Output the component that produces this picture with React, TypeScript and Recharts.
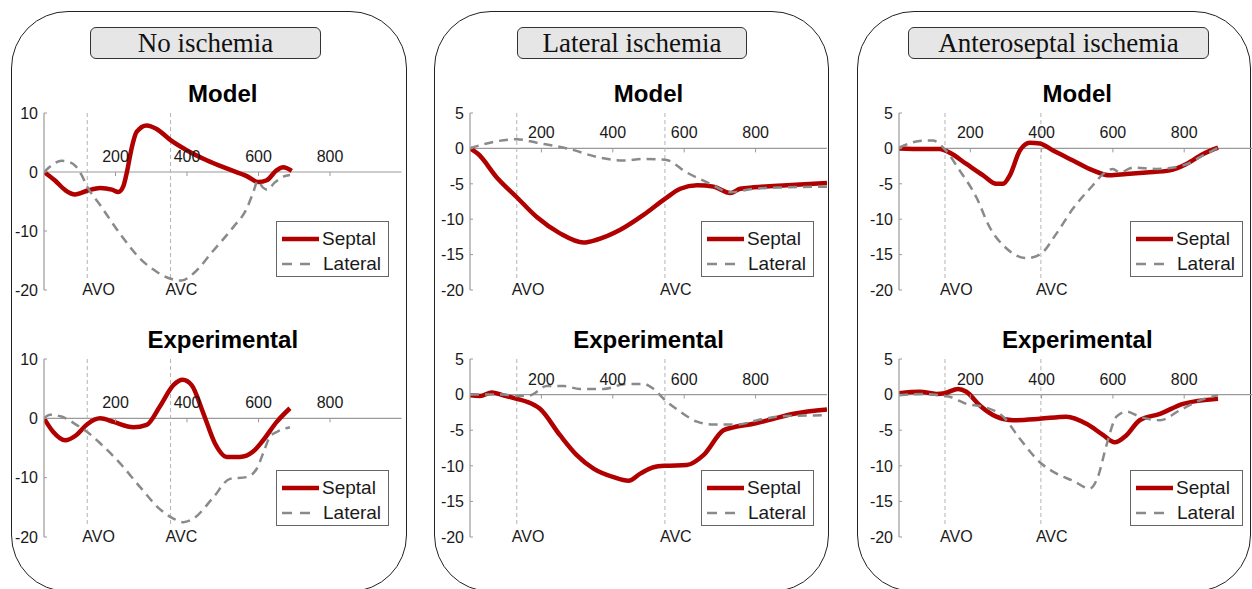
import React from 'react';
import { LineChart, Line, XAxis, YAxis, ReferenceLine, Legend } from 'recharts';

type Pt = [number, number];

// time (ms) / strain-like values
const xTicks = [200, 400, 600, 800];
const yTicksWide = [-20, -10, 0, 10];
const yTicksNarrow = [-20, -15, -10, -5, 0, 5];
const panelTitles = ['No ischemia', 'Lateral ischemia', 'Anteroseptal ischemia'];
const subTitles = ['Model', 'Experimental'];
const seriesNames = ['Septal', 'Lateral'];
const avoTimes = [121, 131, 129];
const avcTimes = [354, 546, 398];

const noIschModelSeptal: Pt[] = [[0, 0], [30, -1.4], [60, -3.1], [87, -3.8], [124, -3.1], [157, -2.7], [190, -3.0], [208, -3.4], [222, -2.4], [232, 0], [245, 4.0], [259, 6.8], [287, 7.9], [315, 7.3], [354, 5.4], [399, 3.7], [455, 2.0], [511, 0.6], [567, -0.7], [600, -1.7], [623, -1.4], [651, 0.3], [669, 0.8], [693, 0.2]];
const noIschModelLateral: Pt[] = [[0, 0], [25, 1.3], [49, 1.9], [70, 1.7], [87, 1.1], [105, -0.5], [121, -2.5], [157, -5.6], [213, -10.5], [269, -14.7], [315, -16.9], [354, -18.1], [385, -18.4], [418, -17.2], [474, -13.3], [530, -9.3], [567, -6.2], [585, -3.5], [598, -1.5], [612, -2.6], [625, -3.0], [645, -1.8], [669, -0.8], [688, -0.5]];
const noIschExpSeptal: Pt[] = [[0, 0], [26, -2.3], [59, -3.7], [91, -2.8], [121, -1.0], [157, 0], [194, -0.6], [250, -1.5], [287, -1.1], [324, 2.0], [362, 5.6], [388, 6.5], [413, 5.6], [446, 0.8], [478, -4.2], [511, -6.5], [548, -6.5], [585, -5.6], [613, -3.7], [651, -0.6], [688, 1.7]];
const noIschExpLateral: Pt[] = [[0, 0], [17, 0.6], [49, 0.3], [91, -1.1], [121, -2.3], [157, -4.2], [213, -7.6], [269, -11.6], [324, -15.3], [362, -16.9], [390, -17.5], [418, -16.9], [474, -13.3], [520, -10.2], [567, -9.9], [595, -8.5], [613, -5.9], [632, -3.1], [651, -2.3], [688, -1.5]];

const latModelSeptal: Pt[] = [[0, 0], [23, -0.8], [75, -4.1], [131, -6.9], [187, -9.7], [252, -12.0], [318, -13.3], [355, -12.9], [421, -11.5], [486, -9.4], [547, -7.1], [589, -5.7], [636, -5.2], [682, -5.4], [729, -6.3], [757, -5.7], [794, -5.5], [888, -5.2], [1000, -4.9]];
const latModelLateral: Pt[] = [[0, 0], [47, 0.7], [131, 1.3], [187, 0.8], [280, -0.1], [355, -1.2], [430, -1.7], [486, -1.5], [547, -1.6], [607, -3.4], [673, -5.0], [729, -6.2], [794, -5.7], [888, -5.5], [1000, -5.4]];
const latExpSeptal: Pt[] = [[0, -0.1], [28, -0.2], [61, 0.3], [93, -0.1], [131, -0.6], [159, -1.0], [196, -2.0], [252, -5.7], [299, -8.5], [346, -10.4], [402, -11.6], [444, -12.1], [477, -11.1], [514, -10.2], [547, -10.0], [607, -9.9], [654, -8.5], [710, -5.0], [738, -4.6], [794, -4.1], [850, -3.4], [907, -2.7], [1000, -2.1]];
const latExpLateral: Pt[] = [[0, 0], [47, 0], [93, 0], [131, -0.2], [168, -0.1], [215, 1.2], [262, 1.2], [308, 0.8], [374, 0.8], [439, 1.5], [486, 1.5], [514, 0.8], [547, -0.8], [589, -2.4], [636, -3.8], [682, -4.2], [748, -4.2], [813, -3.5], [888, -3.0], [1000, -2.9]];

const antModelSeptal: Pt[] = [[0, 0], [67, -0.1], [114, -0.1], [142, -0.6], [189, -2.2], [236, -3.8], [273, -5.0], [292, -5.0], [311, -3.8], [339, -0.3], [367, 0.8], [395, 0.7], [432, -0.3], [488, -1.7], [544, -3.1], [591, -3.8], [638, -3.6], [694, -3.4], [760, -3.1], [806, -2.2], [853, -0.8], [895, 0.1]];
const antModelLateral: Pt[] = [[0, 0.1], [67, 1.1], [95, 1.1], [128, -0.1], [170, -3.1], [217, -6.9], [254, -11.1], [301, -14.1], [357, -15.5], [395, -15.0], [442, -12.0], [488, -8.5], [544, -5.2], [573, -3.6], [600, -2.9], [619, -3.4], [657, -2.7], [722, -2.9], [797, -2.4], [853, -1.0], [895, 0.1]];
const antExpSeptal: Pt[] = [[0, 0.2], [58, 0.4], [105, 0.1], [128, 0.2], [166, 0.8], [189, 0.4], [226, -1.5], [273, -3.1], [320, -3.6], [395, -3.4], [470, -3.1], [526, -4.1], [573, -5.7], [605, -6.7], [638, -5.7], [675, -3.6], [732, -2.7], [797, -1.3], [895, -0.6]];
const antExpLateral: Pt[] = [[0, -0.1], [67, 0.1], [114, -0.1], [142, -0.3], [189, -1.3], [236, -1.7], [292, -3.1], [339, -6.2], [395, -9.5], [442, -11.1], [488, -12.1], [535, -13.2], [559, -11.4], [582, -7.1], [610, -3.1], [638, -2.4], [675, -3.1], [732, -3.6], [788, -2.2], [844, -0.8], [895, -0.1]];

const SANS = '"Liberation Sans", Arial, Helvetica, sans-serif';
const SERIF = '"Liberation Serif", "Times New Roman", serif';
const RED = '#b00000';
const GRAY = '#8a8a8a';
const AXIS = '#9a9a9a';
const TXT = '#1a1a1a';
const seriesColors = [RED, GRAY];

const toRows = (pts: Pt[]) => pts.map(([t, v]) => ({ t, v }));

interface SubPlotProps {
  left: number;
  top: number;
  w: number;
  h: number;
  yDomain: [number, number];
  yTicks: number[];
  septal: Pt[];
  lateral: Pt[];
  avo: number;
  avc: number;
  title: string;
  legendLift: number;
}

const Y_W = 40;
const M_T = 10;
const X_H = 12;
const M_R = 4;

// MATLAB-style boxed legend, always Septal then Lateral
const LegendBox = ({ payload }: any) => {
  const colorOf = (name: string, i: number) => {
    const hit = (payload || []).find((e: any) => e.value === name);
    return hit && hit.color ? hit.color : seriesColors[i];
  };
  return (
    <div style={{ width: 113, height: 56, boxSizing: 'border-box', border: '1px solid #666', background: '#fff' }}>
      <svg width={111} height={54} style={{ display: 'block' }}>
        {seriesNames.map((name, i) => (
          <g key={name}>
            <line
              x1={5}
              x2={i ? 35 : 42}
              y1={i ? 42 : 17}
              y2={i ? 42 : 17}
              stroke={colorOf(name, i)}
              strokeWidth={i ? 2.5 : 4.5}
              strokeDasharray={i ? '10 8' : undefined}
            />
            <text x={i ? 46 : 45} y={i ? 48 : 23} fontSize={19} fontFamily={SANS} fill={TXT}>
              {name}
            </text>
          </g>
        ))}
      </svg>
    </div>
  );
};

const SubPlot: React.FC<SubPlotProps> = ({ left, top, w, h, yDomain, yTicks, septal, lateral, avo, avc, title, legendLift }) => {
  const [yMin, yMax] = yDomain;
  const zeroY = M_T + (h * yMax) / (yMax - yMin);
  const lineEnd = yMin + (yMax - yMin) * 0.058;

  // x tick labels sit just above the zero line, MATLAB "origin" axis style
  const xTick = (p: any) => (
    <g>
      <line x1={p.x} x2={p.x} y1={zeroY} y2={zeroY + 4} stroke={AXIS} />
      <text x={p.x} y={zeroY - 10} textAnchor="middle" fontSize={16} fontFamily={SANS} fill={TXT}>
        {p.payload.value}
      </text>
    </g>
  );
  const yTick = (p: any) => (
    <g>
      <line x1={Y_W} x2={Y_W + 3} y1={p.y} y2={p.y} stroke={AXIS} />
      <text x={Y_W - 6} y={p.y} dy="0.36em" textAnchor="end" fontSize={16} fontFamily={SANS} fill={TXT}>
        {p.payload.value}
      </text>
    </g>
  );
  const eventLabel = (text: string) => (p: any) => (
    <text x={p.viewBox.x - 5} y={M_T + h + 5} fontSize={16} fontFamily={SANS} fill={TXT}>
      {text}
    </text>
  );

  return (
    <>
      <div
        style={{
          position: 'absolute',
          left,
          top: top - 31,
          width: w,
          textAlign: 'center',
          font: `bold 24px/24px ${SANS}`,
          color: '#000',
        }}
      >
        {title}
      </div>
      <div style={{ position: 'absolute', left: left - Y_W, top: top - M_T }}>
        <LineChart
          width={Y_W + w + M_R}
          height={M_T + h + X_H}
          margin={{ top: M_T, right: M_R, bottom: 0, left: 0 }}
          style={{ overflow: 'visible' }}
        >
          <XAxis
            type="number"
            dataKey="t"
            domain={[0, 1000]}
            ticks={xTicks}
            interval={0}
            height={X_H}
            axisLine={false}
            tickLine={false}
            tick={xTick}
            allowDataOverflow
          />
          <YAxis
            type="number"
            domain={yDomain}
            ticks={yTicks}
            interval={0}
            width={Y_W}
            axisLine={{ stroke: AXIS, strokeWidth: 1.2 }}
            tickLine={false}
            tick={yTick}
            allowDataOverflow
          />
          <ReferenceLine y={0} stroke={AXIS} strokeWidth={1.2} />
          <ReferenceLine
            segment={[{ x: avo, y: yMax }, { x: avo, y: lineEnd }]}
            stroke="#b4b4b4"
            strokeDasharray="4 3"
            label={eventLabel('AVO')}
          />
          <ReferenceLine
            segment={[{ x: avc, y: yMax }, { x: avc, y: lineEnd }]}
            stroke="#b4b4b4"
            strokeDasharray="4 3"
            label={eventLabel('AVC')}
          />
          <Line
            data={toRows(septal)}
            dataKey="v"
            name={seriesNames[0]}
            type="monotone"
            stroke={RED}
            strokeWidth={4.5}
            dot={false}
            activeDot={false}
            isAnimationActive={false}
          />
          <Line
            data={toRows(lateral)}
            dataKey="v"
            name={seriesNames[1]}
            type="monotone"
            stroke={GRAY}
            strokeWidth={2.5}
            strokeDasharray="9 6"
            dot={false}
            activeDot={false}
            isAnimationActive={false}
          />
          <Legend
            layout="vertical"
            align="center"
            verticalAlign="middle"
            content={LegendBox}
            wrapperStyle={{
              position: 'absolute',
              left: Y_W + w - 13 - 113,
              top: M_T + h - legendLift - 56,
              width: 113,
              height: 56,
            }}
          />
        </LineChart>
      </div>
    </>
  );
};

const panels = [
  { boxLeft: 11, boxW: 396, tagLeft: 90, tagW: 231, plotLeft: 44, plotW: 357.5, yDomain: [-20, 10] as [number, number], yTicks: yTicksWide, model: [noIschModelSeptal, noIschModelLateral], exp: [noIschExpSeptal, noIschExpLateral] },
  { boxLeft: 434, boxW: 395, tagLeft: 517, tagW: 230, plotLeft: 470, plotW: 357, yDomain: [-20, 5] as [number, number], yTicks: yTicksNarrow, model: [latModelSeptal, latModelLateral], exp: [latExpSeptal, latExpLateral] },
  { boxLeft: 857, boxW: 394, tagLeft: 908, tagW: 301, plotLeft: 899, plotW: 356.5, yDomain: [-20, 5] as [number, number], yTicks: yTicksNarrow, model: [antModelSeptal, antModelLateral], exp: [antExpSeptal, antExpLateral] },
];

export default function App() {
  return (
    <div style={{ position: 'absolute', left: 0, top: 0, width: 1252, height: 589, overflow: 'hidden', background: '#fff' }}>
      {panels.map((p, i) => (
        <React.Fragment key={i}>
          <div
            style={{
              position: 'absolute',
              left: p.boxLeft,
              top: 11,
              width: p.boxW,
              height: 581,
              boxSizing: 'border-box',
              border: '1px solid #222',
              borderRadius: 57,
            }}
          />
          <div
            style={{
              position: 'absolute',
              left: p.tagLeft,
              top: 27,
              width: p.tagW,
              height: 32,
              boxSizing: 'border-box',
              border: '1px solid #333',
              borderRadius: 6,
              background: '#e6e6e6',
              display: 'flex',
              alignItems: 'center',
              justifyContent: 'center',
              font: `27px/30px ${SERIF}`,
              color: '#111',
            }}
          >
            {panelTitles[i]}
          </div>
          <SubPlot
            left={p.plotLeft}
            top={113}
            w={p.plotW}
            h={177}
            yDomain={p.yDomain}
            yTicks={p.yTicks}
            septal={p.model[0]}
            lateral={p.model[1]}
            avo={avoTimes[i]}
            avc={avcTimes[i]}
            title={subTitles[0]}
            legendLift={13}
          />
          <SubPlot
            left={p.plotLeft}
            top={359}
            w={p.plotW}
            h={178}
            yDomain={p.yDomain}
            yTicks={p.yTicks}
            septal={p.exp[0]}
            lateral={p.exp[1]}
            avo={avoTimes[i]}
            avc={avcTimes[i]}
            title={subTitles[1]}
            legendLift={11}
          />
        </React.Fragment>
      ))}
    </div>
  );
}
